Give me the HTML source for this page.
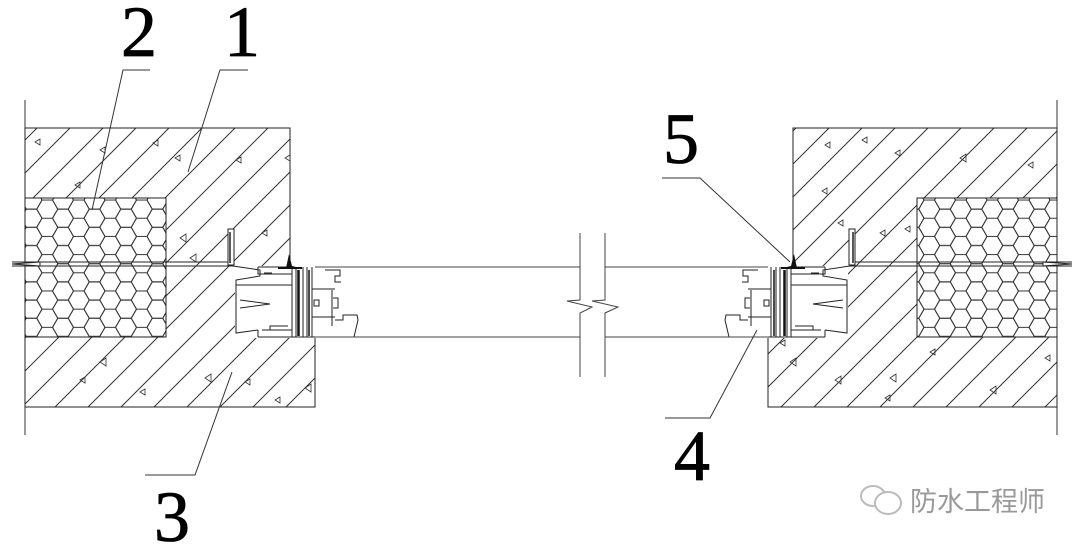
<!DOCTYPE html>
<html><head><meta charset="utf-8"><style>
html,body{margin:0;padding:0;background:#fff;}
svg{display:block;}
.num{font-family:"Liberation Serif","DejaVu Serif",serif;font-size:72px;}
</style></head><body>
<svg width="1080" height="549" viewBox="0 0 1080 549" xmlns="http://www.w3.org/2000/svg">
<defs>
<pattern id="hatch" patternUnits="userSpaceOnUse" width="33" height="33">
<path d="M-3 36 L36 -3 M-3 3 L3 -3 M30 36 L36 30" stroke="#333" stroke-width="1" fill="none"/>
</pattern>
<pattern id="hex" patternUnits="userSpaceOnUse" width="31.5" height="18.186">
<g fill="none" stroke="#333" stroke-width="1">
<polygon points="10.5,0 5.25,9.093 -5.25,9.093 -10.5,0 -5.25,-9.093 5.25,-9.093"/>
<polygon points="42,0 36.75,9.093 26.25,9.093 21,0 26.25,-9.093 36.75,-9.093"/>
<polygon points="10.5,18.186 5.25,27.28 -5.25,27.28 -10.5,18.186 -5.25,9.093 5.25,9.093"/>
<polygon points="42,18.186 36.75,27.28 26.25,27.28 21,18.186 26.25,9.093 36.75,9.093"/>
<polygon points="26.25,9.093 21,18.186 10.5,18.186 5.25,9.093 10.5,0 21,0"/>
</g>
</pattern>
<g id="frame">
<rect x="228" y="229" width="6" height="36" fill="#fff" stroke="#222"/>
<line x1="230" y1="232" x2="230" y2="263" stroke="#222" stroke-width="1.5"/>
<rect x="235" y="266" width="125" height="72" fill="#fff"/>
<g fill="none" stroke="#222" stroke-width="1">
<path d="M233 266 L260 270 L260 276 L236 280 L236 285 L292 285"/>
<path d="M236 285 L236 333 L258 330"/>
<path d="M240 300 L270 304 L240 308"/>
<path d="M258 267 H292 M258 267 V274 H292 M258 337 H360 M258 330 V337 M262 330 H292"/>
<path d="M264 273 h8 M270 330 v-4 h18"/>
<line x1="292" y1="267" x2="292" y2="337"/>
<line x1="296" y1="267" x2="296" y2="337"/>
<line x1="303" y1="267" x2="303" y2="337"/>
<line x1="307" y1="267" x2="307" y2="337"/>
<line x1="312" y1="267" x2="312" y2="337"/>
<path d="M312 289 H335 M312 317 H335 M325 270 H340 V276 H335 V282 H341 M332 290 V326 M333 298 h5 v10 h-5 M335 320 h8 v-5 h14 l1 5 l-4 17"/>
<path d="M314 300 h5 v6 h-5z"/>
</g>
<line x1="298.5" y1="270" x2="298.5" y2="336" stroke="#111" stroke-width="2.5"/>
<line x1="309" y1="270" x2="309" y2="336" stroke="#111" stroke-width="1.5"/>
<path d="M289 254 L292 266 L300 268 L286 268 Z" fill="#111"/>
<path d="M278 268 H302" stroke="#111" stroke-width="2"/>
</g>
</defs>

<line x1="25" y1="100" x2="25" y2="435" stroke="#333"/>
<line x1="1057" y1="100" x2="1057" y2="435" stroke="#333"/>

<path d="M25 128 H290 V267 H315 V407 H25 Z" fill="url(#hatch)" stroke="#222"/>
<rect x="25" y="198" width="141" height="139" fill="#fff"/>
<rect x="25" y="198" width="141" height="139" fill="url(#hex)" stroke="#222"/>
<path d="M1057 128 H793 V267 H768 V407 H1057 Z" fill="url(#hatch)" stroke="#222"/>
<rect x="917" y="198" width="140" height="139" fill="#fff"/>
<rect x="917" y="198" width="140" height="139" fill="url(#hex)" stroke="#222"/>

<g stroke="#222" fill="#fff">
<path d="M40 262 L12 264 L40 266 Z"/>
<line x1="12" y1="262" x2="233" y2="262"/>
<line x1="12" y1="266" x2="233" y2="266"/>
<path d="M1043 262 L1072 264 L1043 266 Z"/>
<line x1="850" y1="262" x2="1072" y2="262"/>
<line x1="850" y1="266" x2="1072" y2="266"/>
</g>

<use href="#frame"/>
<use href="#frame" transform="translate(1083,0) scale(-1,1)"/>

<g stroke="#444" stroke-width="1" fill="none">
<line x1="315" y1="267" x2="580" y2="267"/>
<line x1="315" y1="337" x2="580" y2="337"/>
<line x1="605" y1="267" x2="768" y2="267"/>
<line x1="605" y1="337" x2="768" y2="337"/>
<path d="M580 233 V300 L567 301 L592 307 L580 313 V377"/>
<path d="M605 233 V300 L592 301 L618 307 L605 313 V377"/>
</g>

<g fill="none" stroke="#333" stroke-width="0.8">
<path d="M35 142 l5 -3 v6z M100 150 l5 -3 v6z M153 143 l5 -3 v6z M175 158 l5 -3 v6z M75 185 l5 -3 v6z M236 160 l5 -3 v6z M285 158 l5 -3 v6z M180 238 l6 -4 v8z M190 258 l6 -4 v8z M262 233 l5 -3 v6z M100 362 l6 -4 v8z M205 378 l6 -4 v8z M245 382 l5 -3 v6z M305 388 l6 -4 v8z M80 380 l5 -3 v6z M140 392 l5 -3 v6z M275 400 l5 -3 v6z
M825 145 l5 -3 v6z M862 140 l5 -3 v6z M895 153 l5 -3 v6z M960 158 l6 -4 v8z M1028 165 l5 -3 v6z M822 191 l5 -3 v6z M838 223 l5 -3 v6z M880 233 l5 -3 v6z M905 229 l5 -3 v6z M780 343 l5 -3 v6z M790 362 l6 -4 v8z M835 380 l6 -4 v8z M890 378 l6 -4 v8z M930 352 l5 -3 v6z M990 390 l6 -4 v8z M1045 358 l5 -3 v6z M885 398 l5 -3 v6z"/>
</g>

<g stroke="#333" stroke-width="1" fill="none">
<path d="M150 70 H123 L92 210"/>
<path d="M248 70 H220 L188 172"/>
<path d="M145 475 H195 L232 372"/>
<path d="M665 418 H710 L757 330"/>
<path d="M662 178 H700 L790 262"/>
</g>

<g class="num" fill="#000" stroke="#000" stroke-width="0.8">
<text x="121" y="56" style="font-family:'Liberation Serif',serif">2</text>
<text x="224" y="56" style="font-family:'Liberation Serif',serif">1</text>
<text x="154" y="541" style="font-family:'Liberation Serif',serif">3</text>
<text x="674" y="480" style="font-family:'Liberation Serif',serif">4</text>
<text x="663" y="163" style="font-family:'Liberation Serif',serif">5</text>
</g>

<g fill="none" stroke="#bbb" stroke-width="2">
<ellipse cx="873" cy="496" rx="12" ry="10"/>
<ellipse cx="888" cy="503" rx="13" ry="11" fill="#fff"/>
</g>
<text x="910" y="511" style="font-family:'Liberation Sans','Noto Sans CJK SC',sans-serif;font-size:27px" fill="#999">防水工程师</text>
</svg>
</body></html>
